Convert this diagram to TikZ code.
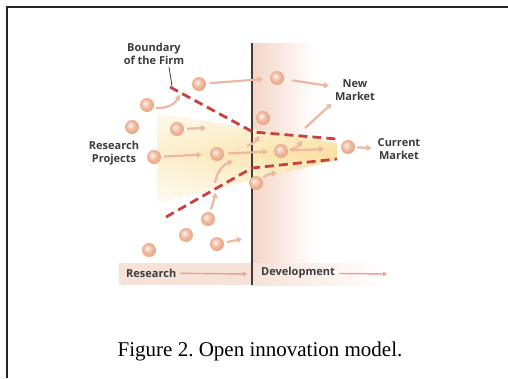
\documentclass[tikz,border=0pt]{standalone}
\usepackage{fontspec}
\setmainfont{Liberation Serif}
\setsansfont{Open Sans}
\usepackage{xcolor}
\usepackage{tikz}
\usetikzlibrary{arrows.meta, calc, fadings}
\definecolor{firmred}{HTML}{C8413E}
\definecolor{flowpink}{HTML}{EEB7A1}
\definecolor{axispink}{HTML}{EE9E98}
\definecolor{ballpeach}{HTML}{EBA683}
\definecolor{devpink}{HTML}{F4D5C6}
\definecolor{bandpink}{HTML}{F7E2D8}
\definecolor{funnelpale}{HTML}{FDF1D2}
\definecolor{funnelyellow}{HTML}{FBE09E}
\definecolor{labelgray}{HTML}{3C3C3C}
\pgfdeclareradialshading{peachball}{\pgfpoint{-7bp}{7bp}}{%
  color(0bp)=(white); color(6bp)=(ballpeach!40!white); color(16bp)=(ballpeach!80!white);
  color(27bp)=(ballpeach); color(36bp)=(ballpeach!80!black); color(50bp)=(ballpeach!80!black)}
\pgfdeclareverticalshading{funnelglow}{100bp}{%
  color(0bp)=(white); color(25bp)=(white); color(38bp)=(funnelpale); color(50bp)=(funnelyellow);
  color(62bp)=(funnelpale); color(75bp)=(white); color(100bp)=(white)}
\tikzstyle{project} = [circle, minimum size=14pt, inner sep=0pt, shading=peachball]
\tikzstyle{flow} = [flowpink, line width=2.2pt, -{Triangle[length=5pt,width=6pt]}]
\tikzstyle{axisarrow} = [axispink, line width=1.4pt, -{Triangle[length=4pt,width=4.5pt]}]
\tikzstyle{boundary} = [firmred, line width=2.8pt, dash pattern=on 9pt off 5pt]
\tikzstyle{notetext} = [font=\sffamily\bfseries\fontsize{11}{13}\selectfont, text=labelgray,
  align=center, inner sep=1pt]

\begin{document}
\frenchspacing
\begin{tikzpicture}[x=1pt, y=1pt]
  \useasboundingbox (0,0) rectangle (508,-378);

  % Frame
  \draw[line width=2pt, black!85] (7,-378) -- (7,-7) -- (508,-7);

  % Development side and bottom band
  \shade[left color=devpink, right color=white] (252,-43) rectangle (315,-285);
  \fill[bandpink] (119,-263) rectangle (252,-285);
  \shade[left color=bandpink, right color=white] (252,-263) rectangle (388,-285);

  % Funnel
  \begin{scope}
    \clip (157,-113) -- (337,-143) -- (337,-160) -- (157,-203) -- cycle;
    \shade[shading=funnelglow] (157,-80) rectangle (337,-228);
    \fill[white, fill opacity=0.5, path fading=east] (157,-113) rectangle (337,-203);
  \end{scope}

  % Firm line
  \draw[labelgray, line width=1.2pt] (252,-43) -- (252,-285);

  % Boundary of the firm
  \draw[boundary] (170,-87) -- (253,-132) -- (337,-139);
  \draw[boundary] (166,-217) -- (252,-168) -- (337,-159);

  % Projects
  \node[project] (b1) at (199,-84) {};
  \node[project] (b2) at (277,-78) {};
  \node[project] (b3) at (147,-105) {};
  \node[project] (b4) at (132,-127) {};
  \node[project] (b5) at (177,-129) {};
  \node[project] (b6) at (263,-118) {};
  \node[project] (b7) at (154,-157) {};
  \node[project] (b8) at (217,-154) {};
  \node[project] (b9) at (281,-151) {};
  \node[project] (b10) at (348,-147) {};
  \node[project] (b11) at (256,-183) {};
  \node[project] (b12) at (208,-219) {};
  \node[project] (b13) at (186,-235) {};
  \node[project] (b14) at (217,-244) {};
  \node[project] (b15) at (149,-250) {};

  % Labels
  \node[notetext] (firm) at (154,-54) {Boundary\\of the Firm};
  \node[notetext] (newmkt) at (355,-90) {New\\Market};
  \node[notetext] (curmkt) at (399,-149) {Current\\Market};
  \node[notetext] (projects) at (114,-153) {Research\\Projects};
  \node[notetext, anchor=west] (research) at (125,-273) {Research};
  \node[notetext, anchor=west] (development) at (260,-273) {Development};
  \node[font=\fontsize{21}{25}\selectfont, anchor=base] (caption) at (260,-356)
    {Figure 2. Open innovation model.};

  % Free ends
  \coordinate (tip) at (172,-86);
  \coordinate (c3) at (180,-95);
  \coordinate (c5) at (206,-128);
  \coordinate (c7a) at (247,-146);
  \coordinate (c7b) at (259,-136);
  \coordinate (c9a) at (302,-141);
  \coordinate (c9b) at (324,-149);
  \coordinate (c10) at (305,-128);
  \coordinate (c11) at (277,-173);
  \coordinate (c12) at (216,-193);
  \coordinate (c13a) at (215,-183);
  \coordinate (c13b) at (233,-161);
  \coordinate (c14) at (242,-239);
  \coordinate (resend) at (247,-274);
  \coordinate (devend) at (387,-274);

  % Pointer
  \draw[labelgray, line width=0.8pt] (firm.south -| tip) ++(-3,-1) -- (tip);

  % Flows
  \draw[flow, shorten <=4pt, shorten >=7pt] (b1) -- (b2);
  \draw[flow, shorten <=8pt, shorten >=5pt] (b2) -- (newmkt);
  \draw[flow, shorten <=2pt] (b3) to[bend right=35] (c3);
  \draw[flow, shorten <=3pt] (b5) -- (c5);
  \draw[flow, shorten <=3pt, shorten >=8pt] (b7) -- (b8);
  \draw[flow, shorten <=4pt, shorten >=6pt] (b8) -- (b9);
  \draw[flow] (c7a) to[bend right=20] (c7b);
  \draw[flow, shorten <=1pt] (b9) to[bend right=20] (c9a);
  \draw[flow, shorten <=3pt] (b9) -- (c9b);
  \draw[flow, shorten >=3pt] (c10) -- (newmkt.south west);
  \draw[flow, shorten <=2pt, shorten >=5pt] (b10) -- (curmkt);
  \draw[flow, shorten <=2pt] (b11) to[bend left=15] (c11);
  \draw[flow, shorten <=3pt] (b12) -- (c12);
  \draw[flow] (c13a) to[bend left=30] (c13b);
  \draw[flow, shorten <=3pt] (b14) -- (c14);

  % Research and development
  \draw[axisarrow, shorten <=3pt] (research) -- (resend);
  \draw[axisarrow, shorten <=3pt] (development) -- (devend);
\end{tikzpicture}
\end{document}
